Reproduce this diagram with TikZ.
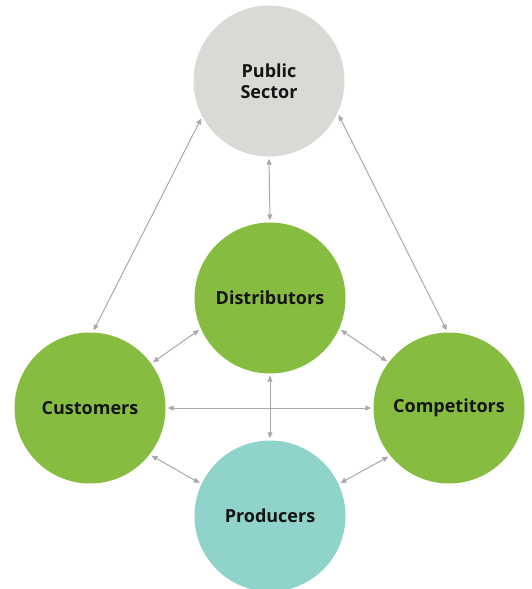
\documentclass[tikz,border=0pt]{standalone}
\usepackage{fontspec}
\setmainfont{Open Sans}
\usetikzlibrary{arrows.meta}
\definecolor{leaf}{RGB}{134,188,64}
\definecolor{stone}{RGB}{217,217,214}
\definecolor{teal2}{RGB}{143,211,203}
\definecolor{link}{RGB}{167,169,172}
\definecolor{ink}{RGB}{20,20,20}
\tikzset{
  actor/.style={circle,minimum size=151pt,inner sep=0pt,text=ink,font=\bfseries\fontsize{18}{21}\selectfont,align=center},
  rel/.style={draw=link,line width=1pt,{Triangle[length=6pt,width=5pt]}-{Triangle[length=6pt,width=5pt]},shorten <=2pt,shorten >=2pt}
}
\begin{document}
\begin{tikzpicture}[x=1pt,y=-1pt]
\useasboundingbox (0,0) rectangle (531,589);
\node[actor,fill=stone] (pub) at (269,81) {Public\\Sector};
\node[actor,fill=leaf] (dis) at (270,298) {Distributors};
\node[actor,fill=leaf] (cus) at (90,408) {Customers};
\node[actor,fill=leaf] (com) at (449,408) {Competitors};
\node[actor,fill=teal2] (pro) at (270,516) {Producers};
\draw[rel] (cus.88) -- (pub.208);
\draw[rel] (pub.-25) -- (com.91);
\draw[rel] (pub.-90) -- (dis.90);
\draw[rel] (cus.36) -- (dis.204);
\draw[rel] (dis.-24) -- (com.143);
\draw[rel] (cus.0) -- (com.180);
\draw[rel] (dis.-90) -- (pro.90);
\draw[rel] (cus.-38) -- (pro.155);
\draw[rel] (pro.25) -- (com.219);
\end{tikzpicture}
\end{document}
